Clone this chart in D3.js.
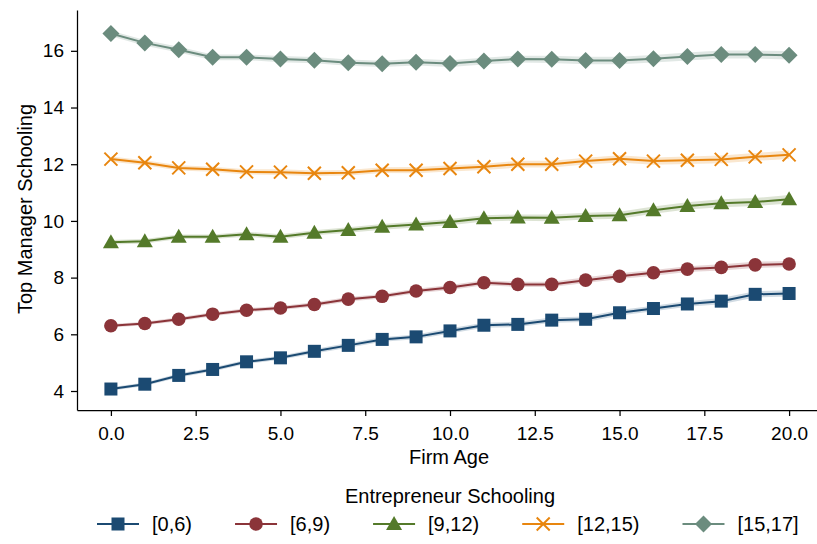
<!DOCTYPE html>
<html>
<head>
<meta charset="utf-8">
<script src="https://cdn.jsdelivr.net/npm/d3@7"></script>
<style>
  body { margin: 0; background: #fff; }
  text { font-family: "Liberation Sans", Arial, sans-serif; fill: #000; }
</style>
</head>
<body>
<svg id="chart" width="817" height="544"></svg>
<script>
// firm age (x) values
const firmAge = d3.range(0, 21);

// series labels (legend)
const groups = ["[0,6)", "[6,9)", "[9,12)", "[12,15)", "[15,17]"];
const colors = ["#1b4a72", "#8b3439", "#547a2a", "#e8860f", "#6b8c7e"];
const markers = ["square", "circle", "triangle", "x", "diamond"];

// mean top manager schooling by firm age, one array per group
const s0_6 = [4.07, 4.24, 4.55, 4.76, 5.03, 5.17, 5.40, 5.61, 5.82, 5.91, 6.12,
              6.32, 6.35, 6.50, 6.53, 6.76, 6.91, 7.07, 7.17, 7.41, 7.44];
const s6_9 = [6.30, 6.38, 6.53, 6.71, 6.85, 6.93, 7.05, 7.24, 7.34, 7.53, 7.65,
              7.82, 7.76, 7.76, 7.91, 8.05, 8.17, 8.30, 8.36, 8.45, 8.48];
const s9_12 = [9.25, 9.28, 9.44, 9.44, 9.53, 9.44, 9.58, 9.68, 9.79, 9.87, 9.96,
               10.09, 10.12, 10.11, 10.17, 10.20, 10.38, 10.53, 10.62, 10.67, 10.76];
const s12_15 = [12.18, 12.05, 11.87, 11.82, 11.73, 11.72, 11.68, 11.70, 11.79, 11.79, 11.85,
                11.91, 12.00, 12.00, 12.11, 12.19, 12.11, 12.14, 12.17, 12.26, 12.33];
const s15_17 = [16.61, 16.28, 16.04, 15.77, 15.77, 15.71, 15.67, 15.58, 15.54, 15.60, 15.55,
                15.64, 15.71, 15.70, 15.66, 15.66, 15.72, 15.80, 15.87, 15.87, 15.84];

// confidence band half-width per group
const ci0_6 = [0.06, 0.06, 0.07, 0.07, 0.07, 0.07, 0.08, 0.08, 0.08, 0.08, 0.09,
               0.09, 0.09, 0.09, 0.10, 0.10, 0.10, 0.10, 0.11, 0.11, 0.11];
const ci6_9 = [0.06, 0.06, 0.07, 0.07, 0.07, 0.07, 0.08, 0.08, 0.08, 0.08, 0.09,
               0.09, 0.09, 0.09, 0.10, 0.10, 0.10, 0.10, 0.11, 0.11, 0.11];
const ci9_12 = [0.08, 0.08, 0.08, 0.08, 0.09, 0.09, 0.09, 0.10, 0.10, 0.10, 0.11,
                0.11, 0.11, 0.12, 0.12, 0.12, 0.13, 0.13, 0.14, 0.14, 0.15];
const ci12_15 = [0.09, 0.09, 0.09, 0.09, 0.09, 0.10, 0.10, 0.10, 0.10, 0.11, 0.11,
                 0.11, 0.12, 0.12, 0.12, 0.13, 0.13, 0.13, 0.14, 0.14, 0.15];
const ci15_17 = [0.10, 0.10, 0.10, 0.10, 0.10, 0.11, 0.11, 0.11, 0.11, 0.12, 0.12,
                 0.12, 0.12, 0.13, 0.13, 0.13, 0.13, 0.14, 0.14, 0.14, 0.15];

const xTicks = [0, 2.5, 5, 7.5, 10, 12.5, 15, 17.5, 20];
const yTicks = [4, 6, 8, 10, 12, 14, 16];

const seriesData = [s0_6, s6_9, s9_12, s12_15, s15_17];
const ciData = [ci0_6, ci6_9, ci9_12, ci12_15, ci15_17];

const svg = d3.select("#chart");
const plotLeft = 77, plotTop = 10, plotBottom = 410, plotRight = 823;
const fs = "20px", tickFs = "19px";

const x = d3.scaleLinear().domain([-1, 21]).range([plotLeft, plotRight]);
const y = d3.scaleLinear().domain([3.33, 17.44]).range([plotBottom, plotTop]);

// axes
const xAxis = svg.append("g")
    .attr("transform", `translate(0,${plotBottom})`)
    .call(d3.axisBottom(x).tickValues(xTicks).tickFormat(d3.format(".1f")).tickSize(6).tickPadding(11).tickSizeOuter(0));
const yAxis = svg.append("g")
    .attr("transform", `translate(${plotLeft},0)`)
    .call(d3.axisLeft(y).tickValues(yTicks).tickSize(6).tickPadding(7).tickSizeOuter(0));

[xAxis, yAxis].forEach(a => {
    a.selectAll("text").style("font-size", tickFs).style("font-family", "Liberation Sans, Arial, sans-serif");
    a.select(".domain").attr("stroke", "#000").attr("stroke-width", 1.25);
    a.selectAll(".tick line").attr("stroke", "#000").attr("stroke-width", 1.25);
});

svg.append("text")
    .attr("x", 449).attr("y", 464)
    .attr("text-anchor", "middle").style("font-size", fs)
    .text("Firm Age");

svg.append("text")
    .attr("transform", `translate(32,209) rotate(-90)`)
    .attr("text-anchor", "middle").style("font-size", fs)
    .text("Top Manager Schooling");

// marker drawing
function drawMarker(g, type, color, cx, cy) {
    if (type === "square") {
        g.append("rect").attr("x", cx - 6.5).attr("y", cy - 6.5).attr("width", 13).attr("height", 13)
            .attr("fill", color);
    } else if (type === "circle") {
        g.append("circle").attr("cx", cx).attr("cy", cy).attr("r", 6.8).attr("fill", color);
    } else if (type === "triangle") {
        g.append("path").attr("d", `M${cx},${cy - 8} L${cx + 8},${cy + 6} L${cx - 8},${cy + 6} Z`)
            .attr("fill", color);
    } else if (type === "x") {
        g.append("path").attr("d", `M${cx - 6.5},${cy - 6.5} L${cx + 6.5},${cy + 6.5} M${cx - 6.5},${cy + 6.5} L${cx + 6.5},${cy - 6.5}`)
            .attr("stroke", color).attr("stroke-width", 2).attr("fill", "none");
    } else if (type === "diamond") {
        g.append("path").attr("d", `M${cx},${cy - 8.5} L${cx + 8.5},${cy} L${cx},${cy + 8.5} L${cx - 8.5},${cy} Z`)
            .attr("fill", color);
    }
}

const line = d3.line().x((d, i) => x(firmAge[i])).y(d => y(d));

seriesData.forEach((vals, k) => {
    const ci = ciData[k];
    const g = svg.append("g");
    const area = d3.area()
        .x((d, i) => x(firmAge[i]))
        .y0((d, i) => y(d - ci[i]))
        .y1((d, i) => y(d + ci[i]));
    g.append("path").datum(vals).attr("d", area)
        .attr("fill", colors[k]).attr("fill-opacity", 0.2);
    g.append("path").datum(vals).attr("d", line)
        .attr("fill", "none").attr("stroke", colors[k]).attr("stroke-width", 2);
    vals.forEach((v, i) => drawMarker(g, markers[k], colors[k], x(firmAge[i]), y(v)));
});

// legend
svg.append("text")
    .attr("x", 450).attr("y", 503)
    .attr("text-anchor", "middle").style("font-size", fs)
    .text("Entrepreneur Schooling");

const legend = svg.append("g");
const legY = 524;
let lx = 97;
groups.forEach((name, k) => {
    legend.append("line").attr("x1", lx).attr("x2", lx + 42).attr("y1", legY).attr("y2", legY)
        .attr("stroke", colors[k]).attr("stroke-width", 2);
    drawMarker(legend, markers[k], colors[k], lx + 21, legY);
    const t = legend.append("text").attr("x", lx + 55).attr("y", legY + 7)
        .style("font-size", fs).text(name);
    lx += 55 + t.node().getComputedTextLength() + 43;
});
</script>
</body>
</html>
